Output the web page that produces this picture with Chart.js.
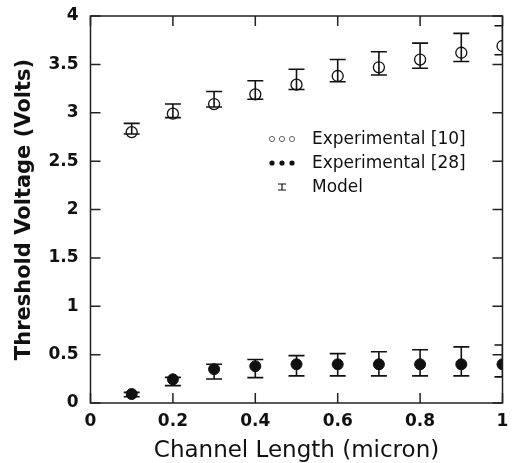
<!DOCTYPE html>
<html>
<head>
<meta charset="utf-8">
<script src="https://cdn.jsdelivr.net/npm/chart.js@4/dist/chart.umd.min.js"></script>
<style>
  html, body { margin: 0; padding: 0; background: #fff; }
  #wrap { width: 514px; height: 463px; }
</style>
</head>
<body>
<div id="wrap"><canvas id="chart" width="514" height="463"></canvas></div>
<script>
// channel length (micron)
const lengths = [0.1, 0.2, 0.3, 0.4, 0.5, 0.6, 0.7, 0.8, 0.9, 1.0];

// Experimental [10] (open circles) and model bounds
const exp10 = [2.80, 2.99, 3.09, 3.19, 3.29, 3.38, 3.47, 3.55, 3.62, 3.69];
const model10Hi = [2.89, 3.09, 3.22, 3.33, 3.45, 3.55, 3.63, 3.72, 3.82, 3.90];
const model10Lo = [2.78, 2.95, 3.06, 3.14, 3.24, 3.32, 3.39, 3.46, 3.53, 3.60];

// Experimental [28] (filled circles) and model bounds
const exp28 = [0.093, 0.245, 0.35, 0.38, 0.40, 0.40, 0.40, 0.40, 0.40, 0.40];
const model28Hi = [0.11, 0.265, 0.40, 0.45, 0.49, 0.51, 0.53, 0.55, 0.58, 0.60];
const model28Lo = [0.065, 0.18, 0.248, 0.262, 0.28, 0.28, 0.28, 0.28, 0.28, 0.27];

const xTicks = [0, 0.2, 0.4, 0.6, 0.8, 1];
const yTicks = [0, 0.5, 1, 1.5, 2, 2.5, 3, 3.5, 4];

const legendLabels = ['Experimental [10]', 'Experimental [28]', 'Model'];

const FONT = "'DejaVu Sans', Verdana, sans-serif";
const INK = '#111';

const toPoints = (ys) => lengths.map((x, i) => ({ x: x, y: ys[i] }));

// plot frame with inward ticks on all four sides
const framePlugin = {
    id: 'frame',
    afterDraw(chart) {
        const { ctx, chartArea: a, scales } = chart;
        ctx.save();
        ctx.strokeStyle = '#222';
        ctx.lineWidth = 1.5;
        ctx.strokeRect(a.left, a.top, a.right - a.left, a.bottom - a.top);
        const len = 10;
        ctx.beginPath();
        scales.x.ticks.forEach(t => {
            const px = scales.x.getPixelForValue(t.value);
            ctx.moveTo(px, a.bottom); ctx.lineTo(px, a.bottom - len);
            ctx.moveTo(px, a.top); ctx.lineTo(px, a.top + len);
        });
        scales.y.ticks.forEach(t => {
            const py = scales.y.getPixelForValue(t.value);
            ctx.moveTo(a.left, py); ctx.lineTo(a.left + len, py);
            ctx.moveTo(a.right, py); ctx.lineTo(a.right - len, py);
        });
        ctx.stroke();
        ctx.restore();
    }
};

// model error bars, clipped to plot area
const errorBarPlugin = {
    id: 'errorBars',
    afterDatasetsDraw(chart) {
        const { ctx, chartArea: a, scales } = chart;
        const sets = [[model10Lo, model10Hi], [model28Lo, model28Hi]];
        const cap = 8;
        ctx.save();
        ctx.beginPath();
        ctx.rect(a.left, a.top, a.right - a.left, a.bottom - a.top);
        ctx.clip();
        ctx.strokeStyle = INK;
        ctx.lineWidth = 1.6;
        ctx.beginPath();
        sets.forEach(([lo, hi]) => {
            lengths.forEach((x, i) => {
                const px = scales.x.getPixelForValue(x);
                const yLo = scales.y.getPixelForValue(lo[i]);
                const yHi = scales.y.getPixelForValue(hi[i]);
                ctx.moveTo(px, yLo); ctx.lineTo(px, yHi);
                ctx.moveTo(px - cap, yHi); ctx.lineTo(px + cap, yHi);
                ctx.moveTo(px - cap, yLo); ctx.lineTo(px + cap, yLo);
            });
        });
        ctx.stroke();
        ctx.restore();
    }
};

// legend placed inside the plot area
const insideLegend = {
    id: 'insideLegend',
    afterDraw(chart) {
        const { ctx } = chart;
        const x0 = 272, textX = 312, rows = [139, 163, 187];
        ctx.save();
        ctx.font = '17px ' + FONT;
        ctx.textBaseline = 'middle';
        ctx.textAlign = 'left';
        ctx.fillStyle = INK;
        ctx.strokeStyle = INK;
        legendLabels.forEach((label, r) => {
            const y = rows[r];
            if (r < 2) {
                for (let k = 0; k < 3; k++) {
                    ctx.beginPath();
                    ctx.arc(x0 + k * 10, y, 2.6, 0, Math.PI * 2);
                    if (r === 0) { ctx.lineWidth = 1; ctx.strokeStyle = '#666'; ctx.stroke(); }
                    else { ctx.fill(); }
                }
            } else {
                ctx.lineWidth = 1.2;
                ctx.strokeStyle = INK;
                ctx.beginPath();
                ctx.moveTo(x0 + 10, y - 3); ctx.lineTo(x0 + 10, y + 3);
                ctx.moveTo(x0 + 6, y - 3); ctx.lineTo(x0 + 14, y - 3);
                ctx.moveTo(x0 + 6, y + 3); ctx.lineTo(x0 + 14, y + 3);
                ctx.stroke();
            }
            ctx.fillText(label, textX, y + 1);
        });
        ctx.restore();
    }
};

new Chart(document.getElementById('chart'), {
    type: 'scatter',
    data: {
        datasets: [
            {
                label: legendLabels[0],
                data: toPoints(exp10),
                pointStyle: 'circle',
                pointRadius: 5.5,
                pointBackgroundColor: 'rgba(255,255,255,0)',
                pointBorderColor: INK,
                pointBorderWidth: 1.3
            },
            {
                label: legendLabels[1],
                data: toPoints(exp28),
                pointStyle: 'circle',
                pointRadius: 5.5,
                pointBackgroundColor: INK,
                pointBorderColor: INK,
                pointBorderWidth: 1
            }
        ]
    },
    options: {
        responsive: false,
        animation: false,
        layout: { padding: { top: 16, right: 11.5, bottom: 0, left: 0 } },
        plugins: {
            legend: { display: false },
            tooltip: { enabled: false }
        },
        scales: {
            x: {
                type: 'linear',
                min: 0,
                max: 1,
                afterBuildTicks: s => { s.ticks = xTicks.map(v => ({ value: v })); },
                afterFit: s => { s.height = 60; s.paddingLeft = 0; s.paddingRight = 0; },
                grid: { display: false, drawTicks: false },
                border: { display: false },
                ticks: {
                    color: INK,
                    padding: 8,
                    maxRotation: 0,
                    callback: v => String(v),
                    font: { family: FONT, size: 17, weight: 'bold' }
                },
                title: {
                    display: true,
                    text: 'Channel Length (micron)',
                    color: INK,
                    padding: 0,
                    font: { family: FONT, size: 23, lineHeight: 1 }
                }
            },
            y: {
                type: 'linear',
                min: 0,
                max: 4,
                afterBuildTicks: s => { s.ticks = yTicks.map(v => ({ value: v })); },
                afterFit: s => { s.width = 90.5; s.paddingTop = 0; s.paddingBottom = 0; },
                grid: { display: false, drawTicks: false },
                border: { display: false },
                ticks: {
                    color: INK,
                    padding: 12,
                    callback: v => String(v),
                    font: { family: FONT, size: 17, weight: 'bold' }
                },
                title: {
                    display: true,
                    text: 'Threshold Voltage (Volts)',
                    color: INK,
                    padding: { top: 12, bottom: 0 },
                    font: { family: FONT, size: 21, weight: 'bold' }
                }
            }
        }
    },
    plugins: [errorBarPlugin, framePlugin, insideLegend]
});
</script>
</body>
</html>
